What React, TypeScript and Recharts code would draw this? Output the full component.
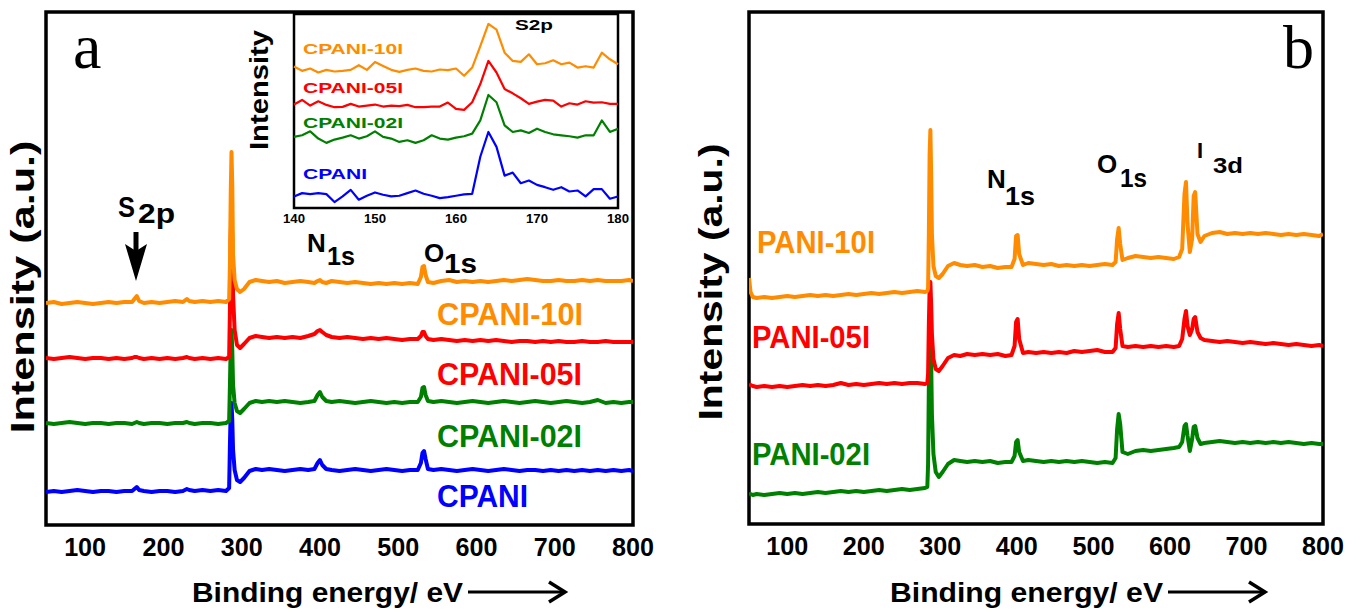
import { LineChart, Line, XAxis, YAxis, ReferenceArea } from "recharts";

// Survey spectra, panel a (binding energy in eV, intensity in arbitrary units)
const energyA = [
    50, 60, 70, 80, 90, 100, 110, 120, 130, 140, 150, 160,
    163, 166, 169, 175, 185, 195, 205, 215, 225, 230, 233,
    240, 250, 260, 270, 280, 284, 285, 286, 287, 288, 289,
    291, 294, 298, 303, 310, 318, 326, 335, 345, 355, 365,
    375, 385, 393, 397, 400, 403, 408, 415, 425, 435, 445,
    455, 465, 475, 485, 495, 505, 515, 525, 529, 531, 533,
    535, 538, 545, 555, 565, 575, 585, 595, 605, 615, 625,
    635, 645, 655, 665, 675, 685, 695, 705, 715, 725, 735,
    745, 755, 765, 775, 785, 795, 800,
];
const cpani10A = [
    222, 223, 221, 222, 223, 222, 221, 222, 223, 222, 223, 223,
    226, 229, 224, 222, 223, 222, 223, 224, 223, 226, 224,
    223, 224, 223, 224, 223, 226, 260, 330, 373, 340, 270,
    245, 236, 233, 236, 243, 245, 244, 243, 244, 242, 243,
    244, 243, 242, 244, 245, 243, 242, 244, 243, 242, 243,
    242, 241, 242, 241, 242, 241, 242, 241, 248, 258, 259,
    250, 243, 242, 244, 245, 243, 244, 243, 244, 243, 244,
    245, 244, 245, 246, 245, 244, 244, 245, 244, 244, 245,
    244, 245, 244, 244, 244, 245, 244,
];
const cpani05A = [
    167, 166, 167, 168, 167, 166, 167, 167, 166, 167, 166, 167,
    168, 168, 167, 166, 167, 166, 167, 166, 167, 168, 167,
    166, 167, 166, 167, 166, 168, 215, 290, 313, 285, 230,
    195, 180, 177, 181, 187, 189, 188, 187, 188, 187, 188,
    187, 189, 191, 194, 195, 193, 190, 188, 187, 188, 187,
    186, 187, 186, 187, 186, 185, 186, 186, 189, 193, 193,
    189, 186, 185, 186, 185, 184, 185, 184, 185, 184, 185,
    184, 183, 184, 184, 183, 184, 183, 184, 183, 183, 184,
    183, 183, 184, 183, 183, 183, 183,
];
const cpani02A = [
    102, 101, 102, 103, 102, 101, 102, 102, 101, 102, 102, 101,
    102, 103, 102, 101, 102, 102, 101, 102, 102, 103, 102,
    101, 102, 102, 101, 102, 104, 140, 180, 195, 175, 140,
    122, 114, 112, 116, 122, 124, 123, 124, 123, 124, 123,
    122, 123, 124, 130, 133, 128, 124, 123, 124, 123, 122,
    123, 124, 123, 122, 123, 122, 123, 123, 128, 137, 138,
    130, 124, 123, 124, 123, 122, 123, 124, 123, 122, 123,
    124, 123, 122, 123, 124, 123, 122, 123, 124, 123, 122,
    123, 125, 122, 123, 122, 123, 123,
];
const cpaniA = [
    33, 34, 33, 34, 35, 34, 33, 34, 34, 33, 34, 34,
    36, 38, 35, 34, 33, 34, 34, 33, 34, 36, 35,
    34, 35, 34, 35, 34, 37, 80, 115, 122, 105, 75,
    55, 45, 43, 47, 54, 56, 55, 56, 55, 54, 55,
    56, 55, 56, 62, 65, 60, 56, 55, 54, 55, 56,
    55, 54, 55, 56, 55, 54, 55, 55, 62, 72, 74,
    66, 56, 55, 56, 55, 54, 55, 56, 55, 54, 55,
    56, 55, 54, 55, 55, 54, 55, 54, 55, 54, 55,
    54, 55, 54, 55, 54, 55, 54,
];

// Survey spectra, panel b
const energyB = [
    50, 52, 55, 60, 70, 80, 90, 100, 110, 120, 130,
    140, 150, 160, 170, 180, 190, 200, 210, 220, 230, 240,
    250, 260, 270, 280, 283, 284, 285, 286, 287, 288, 289,
    291, 294, 298, 303, 310, 318, 326, 335, 345, 355, 365,
    375, 385, 393, 397, 399, 401, 403, 408, 415, 425, 435,
    445, 455, 465, 475, 485, 495, 505, 515, 525, 529, 531,
    533, 535, 538, 545, 555, 565, 575, 585, 595, 605, 612,
    616, 619, 621, 623, 626, 629, 631, 633, 636, 640, 645,
    655, 665, 675, 685, 695, 705, 715, 725, 735, 745, 755,
    765, 775, 785, 795, 800,
];
const pani10B = [
    246, 232, 227, 226, 227, 226, 227, 228, 227, 228, 229,
    228, 229, 228, 229, 230, 229, 230, 231, 230, 231, 232,
    231, 232, 233, 232, 233, 236, 290, 370, 394, 350, 290,
    258, 248, 246, 250, 258, 261, 259, 258, 259, 257, 258,
    256, 257, 257, 265, 288, 289, 270, 259, 261, 260, 259,
    260, 258, 259, 258, 259, 258, 259, 260, 259, 262, 285,
    296, 280, 264, 266, 268, 267, 266, 267, 266, 265, 267,
    275, 330, 342, 300, 272, 285, 328, 332, 290, 282, 288,
    291, 292, 290, 291, 290, 291, 290, 291, 290, 289, 290,
    289, 290, 289, 288, 290,
];
const pani05B = [
    140, 139, 138, 137, 138, 137, 138, 137, 138, 139, 138,
    139, 138, 139, 141, 139, 140, 139, 140, 141, 140, 141,
    140, 141, 141, 140, 141, 150, 200, 235, 242, 220, 190,
    165, 155, 153, 158, 166, 169, 168, 170, 169, 170, 169,
    170, 168, 169, 178, 202, 205, 185, 171, 172, 171, 172,
    171, 172, 171, 173, 172, 173, 174, 172, 172, 176, 200,
    211, 195, 178, 177, 178, 177, 178, 177, 178, 177, 178,
    185, 205, 213, 198, 189, 195, 205, 207, 192, 186, 184,
    183, 182, 183, 182, 181, 182, 181, 180, 181, 180, 179,
    180, 179, 178, 179, 178,
];
const pani02B = [
    29, 30, 29, 30, 29, 30, 31, 30, 31, 30, 31,
    32, 31, 32, 33, 32, 33, 32, 33, 34, 33, 34,
    35, 34, 35, 36, 37, 60, 140, 185, 191, 165, 110,
    70, 52, 47, 52, 60, 64, 63, 62, 63, 62, 63,
    61, 62, 62, 68, 82, 84, 72, 63, 64, 63, 62,
    63, 62, 63, 62, 63, 62, 61, 62, 61, 66, 95,
    110, 100, 72, 70, 73, 74, 73, 74, 75, 76, 77,
    82, 98, 100, 88, 73, 85, 97, 98, 86, 80, 81,
    82, 83, 82, 81, 82, 81, 82, 81, 82, 81, 82,
    81, 80, 81, 80, 80,
];

// S2p region (inset)
const energyS2p = [
    140, 141, 142, 143, 144, 145, 146, 147, 148, 149, 150,
    151, 152, 153, 154, 155, 156, 157, 158, 159, 160,
    161, 162, 163, 164, 165, 166, 167, 168, 169, 170,
    171, 172, 173, 174, 175, 176, 177, 178, 179, 180,
];
const s2p10 = [
    428, 415, 422, 410, 418, 413, 415, 418, 432, 418, 442,
    430, 418, 412, 418, 422, 415, 413, 419, 417, 422,
    400, 425, 490, 557, 540, 470, 445, 442, 465, 435,
    438, 447, 435, 440, 425, 429, 425, 470, 450, 435,
];
const s2p05 = [
    313, 327, 310, 323, 312, 305, 306, 315, 307, 310, 313,
    307, 310, 308, 312, 305, 305, 307, 307, 319, 300,
    297, 320, 375, 445, 410, 360, 347, 332, 315, 322,
    327, 325, 307, 317, 313, 323, 319, 320, 315, 315,
];
const s2p02 = [
    215, 220, 232, 210, 197, 207, 213, 220, 210, 217, 232,
    215, 210, 200, 205, 197, 205, 220, 210, 207, 213,
    217, 225, 265, 342, 320, 250, 230, 235, 227, 240,
    230, 223, 220, 217, 213, 220, 220, 265, 230, 240,
];
const s2pCpani = [
    35, 45, 42, 45, 42, 18, 35, 55, 25, 37, 47,
    40, 35, 37, 45, 53, 43, 37, 30, 33, 37,
    41, 43, 155, 230, 185, 98, 107, 75, 83, 70,
    63, 55, 63, 50, 53, 35, 57, 57, 28, 35,
];

const surveyTicks = [100, 200, 300, 400, 500, 600, 700, 800];
const s2pTicks = [140, 150, 160, 170, 180];

const ORANGE = "#ff8c00";
const RED = "#ff0000";
const GREEN = "#008000";
const BLUE = "#0000ff";
const SANS = '"Liberation Sans", Arial, sans-serif';
const SERIF = '"Liberation Serif", "Times New Roman", serif';

const rowsA = energyA.map((eV, i) => ({
    eV,
    cpani: cpaniA[i],
    cpani02: cpani02A[i],
    cpani05: cpani05A[i],
    cpani10: cpani10A[i],
}));
const rowsB = energyB.map((eV, i) => ({
    eV,
    pani02: pani02B[i],
    pani05: pani05B[i],
    pani10: pani10B[i],
}));
const rowsS2p = energyS2p.map((eV, i) => ({
    eV,
    cpani: s2pCpani[i],
    cpani02: s2p02[i],
    cpani05: s2p05[i],
    cpani10: s2p10[i],
}));

const SurveyTick = (props: any) => (
    <text
        x={props.x}
        y={props.y + 31}
        textAnchor="middle"
        fontFamily={SANS}
        fontWeight="bold"
        fontSize={26}
        textLength={42}
        lengthAdjust="spacingAndGlyphs"
        fill="#000"
    >
        {props.payload.value}
    </text>
);

const InsetTick = (props: any) => (
    <text
        x={props.x}
        y={props.y + 15}
        textAnchor="middle"
        fontFamily={SANS}
        fontWeight="bold"
        fontSize={12}
        textLength={22}
        lengthAdjust="spacingAndGlyphs"
        fill="#000"
    >
        {props.payload.value}
    </text>
);

const T = ({
    x,
    y,
    size,
    len,
    fill = "#000",
    anchor = "start",
    rotate = false,
    family = SANS,
    weight = "bold",
    children,
}: any) => (
    <text
        x={x}
        y={y}
        fontSize={size}
        fontFamily={family}
        fontWeight={weight}
        fill={fill}
        textAnchor={anchor}
        textLength={len}
        lengthAdjust={len ? "spacingAndGlyphs" : undefined}
        transform={rotate ? `rotate(-90 ${x} ${y})` : undefined}
    >
        {children}
    </text>
);

const line = (key: string, color: string, width: number) => (
    <Line
        type="linear"
        dataKey={key}
        stroke={color}
        strokeWidth={width}
        strokeLinejoin="round"
        dot={false}
        activeDot={false}
        isAnimationActive={false}
    />
);

const App = () => {
    return (
        <div
            style={{
                position: "absolute",
                left: 0,
                top: 0,
                width: 1348,
                height: 611,
                background: "#fff",
                overflow: "hidden",
            }}
        >
            {/* Panel a: survey spectra */}
            <div style={{ position: "absolute", left: 0, top: 0 }}>
                <LineChart
                    width={660}
                    height={611}
                    data={rowsA}
                    margin={{ top: 12, left: 46, right: 27, bottom: 46 }}
                >
                    <XAxis
                        dataKey="eV"
                        type="number"
                        domain={[50, 800]}
                        ticks={surveyTicks}
                        allowDataOverflow
                        axisLine={false}
                        tickLine={false}
                        tickSize={0}
                        tickMargin={0}
                        height={40}
                        tick={<SurveyTick />}
                    />
                    <YAxis type="number" domain={[0, 513]} hide allowDataOverflow />
                    <ReferenceArea
                        x1={50}
                        x2={800}
                        y1={0}
                        y2={513}
                        fill="none"
                        fillOpacity={0}
                        stroke="#000"
                        strokeWidth={3.5}
                    />
                    {line("cpani", BLUE, 4)}
                    {line("cpani02", GREEN, 4)}
                    {line("cpani05", RED, 4)}
                    {line("cpani10", ORANGE, 4)}
                </LineChart>
            </div>

            {/* Panel a inset: S2p region */}
            <div style={{ position: "absolute", left: 254, top: 0 }}>
                <LineChart
                    width={400}
                    height={240}
                    data={rowsS2p}
                    margin={{ top: 14, left: 40, right: 36, bottom: 12 }}
                >
                    <XAxis
                        dataKey="eV"
                        type="number"
                        domain={[140, 180]}
                        ticks={s2pTicks}
                        axisLine={false}
                        tickLine={false}
                        tickSize={0}
                        tickMargin={0}
                        height={20}
                        tick={<InsetTick />}
                    />
                    <YAxis type="number" domain={[0, 587]} hide allowDataOverflow />
                    <ReferenceArea
                        x1={140}
                        x2={180}
                        y1={0}
                        y2={587}
                        fill="none"
                        fillOpacity={0}
                        stroke="#000"
                        strokeWidth={2.5}
                    />
                    {line("cpani", BLUE, 2.2)}
                    {line("cpani02", GREEN, 2.2)}
                    {line("cpani05", RED, 2.2)}
                    {line("cpani10", ORANGE, 2.2)}
                </LineChart>
            </div>

            {/* Panel b: survey spectra */}
            <div style={{ position: "absolute", left: 690, top: 0 }}>
                <LineChart
                    width={658}
                    height={611}
                    data={rowsB}
                    margin={{ top: 12, left: 59, right: 25, bottom: 47 }}
                >
                    <XAxis
                        dataKey="eV"
                        type="number"
                        domain={[50, 800]}
                        ticks={surveyTicks}
                        allowDataOverflow
                        axisLine={false}
                        tickLine={false}
                        tickSize={0}
                        tickMargin={0}
                        height={40}
                        tick={<SurveyTick />}
                    />
                    <YAxis type="number" domain={[0, 512]} hide allowDataOverflow />
                    <ReferenceArea
                        x1={50}
                        x2={800}
                        y1={0}
                        y2={512}
                        fill="none"
                        fillOpacity={0}
                        stroke="#000"
                        strokeWidth={3.5}
                    />
                    {line("pani02", GREEN, 4)}
                    {line("pani05", RED, 4)}
                    {line("pani10", ORANGE, 4)}
                </LineChart>
            </div>

            {/* Labels and annotations */}
            <svg
                width={1348}
                height={611}
                style={{ position: "absolute", left: 0, top: 0, pointerEvents: "none" }}
            >
                {/* panel a */}
                <T x={73} y={68} size={64} family={SERIF} weight="normal">a</T>
                <T x={34} y={287} size={33} len={293} anchor="middle" rotate>
                    Intensity (a.u.)
                </T>
                <T x={192} y={602} size={28} len={271}>Binding energy/ eV</T>
                <line x1={468} y1={592} x2={563} y2={592} stroke="#000" strokeWidth={3} />
                <polyline points="549,582 565,592 549,602" fill="none" stroke="#000" strokeWidth={3.5} />

                <T x={118} y={217} size={30} len={17}>S</T>
                <T x={138} y={223} size={27} len={37}>2p</T>
                <line x1={136} y1={232} x2={136} y2={252} stroke="#000" strokeWidth={5} />
                <polygon points="125,244 136,251 147,244 136,281" fill="#000" />

                <T x={307} y={252} size={26}>N</T>
                <T x={327} y={265} size={26} len={28}>1s</T>
                <T x={424} y={262} size={26}>O</T>
                <T x={444} y={273} size={27} len={33}>1s</T>

                <T x={437} y={325} size={31} len={146} fill={ORANGE}>CPANI-10I</T>
                <T x={437} y={385} size={31} len={145} fill={RED}>CPANI-05I</T>
                <T x={437} y={447} size={31} len={145} fill={GREEN}>CPANI-02I</T>
                <T x={437} y={507} size={31} len={91} fill={BLUE}>CPANI</T>

                {/* inset */}
                <T x={268} y={90} size={26} len={120} anchor="middle" rotate>
                    Intensity
                </T>
                <T x={515} y={30} size={15} len={38}>S2p</T>
                <T x={303} y={54} size={14} len={100} fill={ORANGE}>CPANI-10I</T>
                <T x={303} y={93} size={14} len={100} fill={RED}>CPANI-05I</T>
                <T x={303} y={128} size={14} len={100} fill={GREEN}>CPANI-02I</T>
                <T x={303} y={179} size={14} len={64} fill={BLUE}>CPANI</T>

                {/* panel b */}
                <T x={1283} y={68} size={62} family={SERIF} weight="normal">b</T>
                <T x={722} y={282} size={33} len={277} anchor="middle" rotate>
                    Intensity (a.u.)
                </T>
                <T x={890} y={602} size={28} len={273}>Binding energy/ eV</T>
                <line x1={1168} y1={592} x2={1263} y2={592} stroke="#000" strokeWidth={3} />
                <polyline points="1249,582 1265,592 1249,602" fill="none" stroke="#000" strokeWidth={3.5} />

                <T x={987} y={188} size={26}>N</T>
                <T x={1005} y={205} size={26} len={30}>1s</T>
                <T x={1097} y={173} size={26}>O</T>
                <T x={1120} y={187} size={26} len={27}>1s</T>
                <T x={1197} y={158} size={22}>I</T>
                <T x={1213} y={173} size={22} len={30}>3d</T>

                <T x={757} y={253} size={31} len={118} fill={ORANGE}>PANI-10I</T>
                <T x={752} y={348} size={31} len={118} fill={RED}>PANI-05I</T>
                <T x={752} y={465} size={31} len={118} fill={GREEN}>PANI-02I</T>
            </svg>
        </div>
    );
};

export default App;
